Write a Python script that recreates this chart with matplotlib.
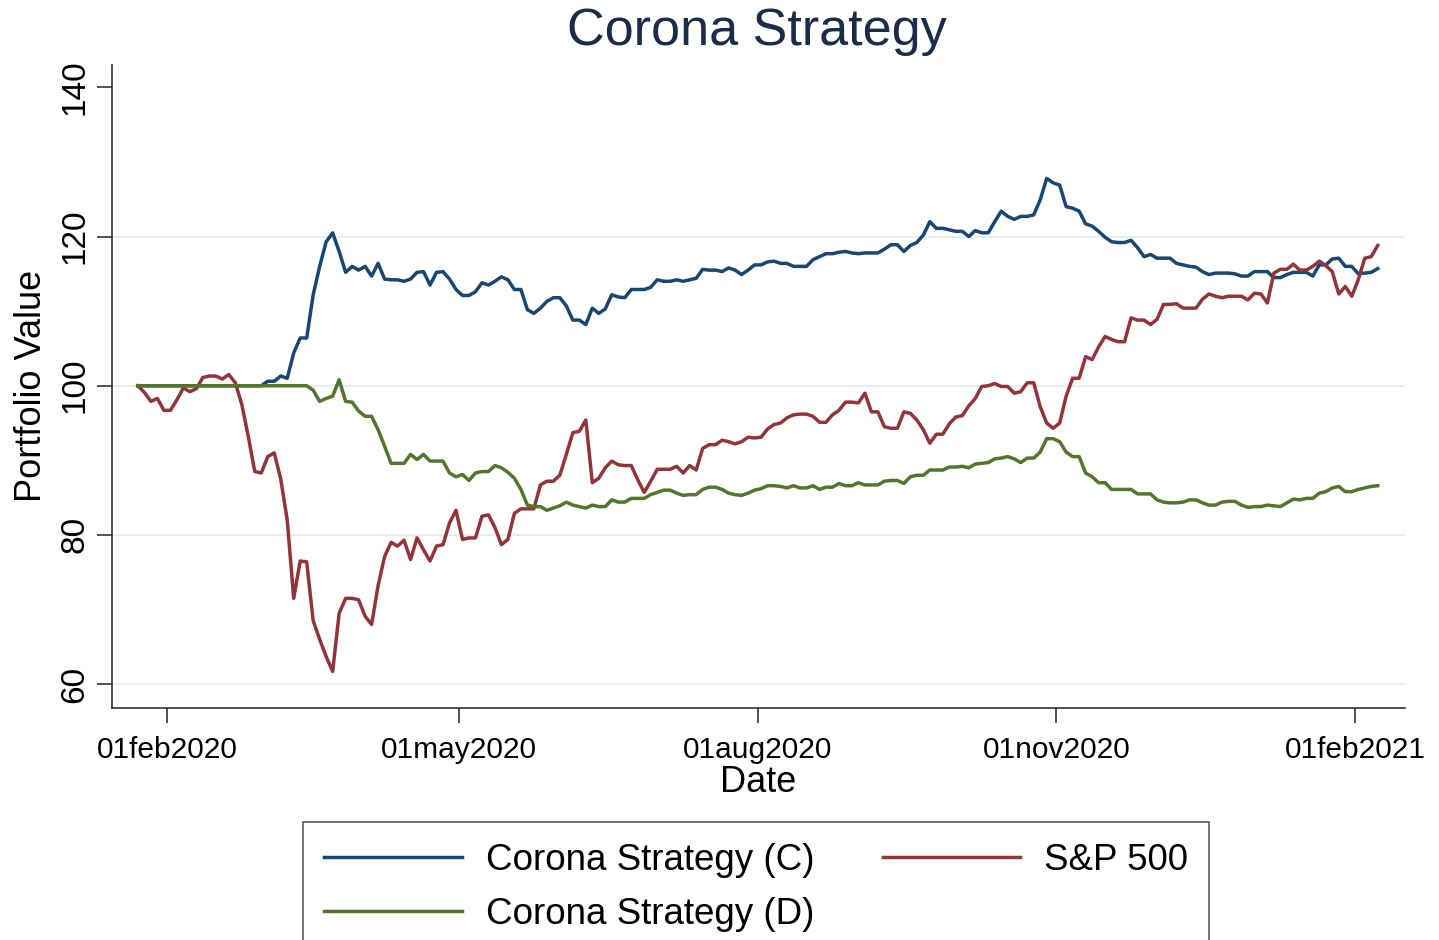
import pandas as pd
import matplotlib
matplotlib.use("Agg")
import matplotlib.pyplot as plt

plt.rcParams["font.family"] = ["Liberation Sans", "DejaVu Sans"]

# portfolio values (start = 100), sampled every second calendar day from 23jan2020
corona_c = [
    100.0, 100.0, 100.0, 100.0, 100.0, 100.0, 100.0, 100.0, 100.0, 100.0,
    100.0, 100.0, 100.0, 100.0, 100.0, 100.0, 100.0, 100.0, 100.0, 100.0,
    100.6, 100.6, 101.3, 101.0, 104.4, 106.4, 106.4, 112.2, 116.0, 119.3,
    120.5, 118.0, 115.2, 116.0, 115.5, 116.0, 114.7, 116.4, 114.3, 114.2,
    114.2, 114.0, 114.3, 115.2, 115.3, 113.5, 115.2, 115.3, 114.3, 112.9,
    112.1, 112.1, 112.6, 113.8, 113.5, 114.0, 114.6, 114.2, 112.9, 112.9,
    110.2, 109.7, 110.4, 111.3, 111.8, 111.8, 110.7, 108.8, 108.8, 108.2,
    110.4, 109.7, 110.3, 112.2, 111.9, 111.8, 112.9, 112.9, 112.9, 113.2,
    114.2, 114.0, 114.0, 114.2, 114.0, 114.2, 114.4, 115.6, 115.5, 115.5,
    115.3, 115.8, 115.5, 114.9, 115.5, 116.2, 116.2, 116.6, 116.7, 116.4,
    116.4, 116.0, 116.0, 116.0, 116.9, 117.3, 117.7, 117.7, 117.9, 118.0,
    117.8, 117.7, 117.8, 117.8, 117.8, 118.3, 118.9, 118.9, 118.0, 118.8,
    119.2, 120.2, 122.0, 121.1, 121.1, 120.9, 120.7, 120.7, 120.0, 120.8,
    120.5, 120.5, 122.0, 123.4, 122.7, 122.3, 122.7, 122.7, 122.9, 124.9,
    127.8, 127.2, 126.9, 124.0, 123.8, 123.4, 121.7, 121.4, 120.7, 119.9,
    119.3, 119.2, 119.2, 119.5, 118.5, 117.3, 117.6, 117.1, 117.1, 117.1,
    116.4, 116.2, 116.0, 115.9, 115.3, 114.9, 115.1, 115.1, 115.1, 115.0,
    114.7, 114.7, 115.3, 115.3, 115.3, 114.5, 114.5, 114.9, 115.2, 115.2,
    115.2, 114.7, 116.2, 116.2, 117.0, 117.1, 116.0, 116.0, 115.0, 115.1,
    115.2, 115.7,
]

sp500 = [
    100.0, 99.1, 97.9, 98.3, 96.7, 96.7, 98.1, 99.7, 99.2, 99.6,
    101.1, 101.3, 101.3, 100.9, 101.5, 100.4, 97.5, 93.2, 88.5, 88.3,
    90.5, 91.0, 87.5, 82.0, 71.5, 76.5, 76.4, 68.5, 66.0, 63.7,
    61.7, 69.5, 71.5, 71.5, 71.3, 69.1, 68.0, 73.2, 77.1, 79.0,
    78.5, 79.3, 76.7, 79.6, 78.0, 76.5, 78.5, 78.7, 81.6, 83.3,
    79.4, 79.6, 79.6, 82.5, 82.7, 81.0, 78.7, 79.4, 82.9, 83.5,
    83.5, 83.5, 86.7, 87.2, 87.2, 88.0, 90.8, 93.7, 93.9, 95.4,
    87.0, 87.6, 89.0, 89.9, 89.4, 89.3, 89.3, 87.4, 85.7, 87.2,
    88.8, 88.8, 88.8, 89.2, 88.3, 89.3, 88.7, 91.6, 92.1, 92.1,
    92.7, 92.5, 92.2, 92.5, 93.1, 93.0, 93.1, 94.2, 94.8, 95.0,
    95.7, 96.1, 96.2, 96.2, 95.9, 95.1, 95.1, 96.1, 96.7, 97.8,
    97.8, 97.7, 99.0, 96.5, 96.5, 94.5, 94.3, 94.3, 96.5, 96.3,
    95.4, 94.1, 92.3, 93.5, 93.5, 94.9, 95.8, 96.0, 97.3, 98.3,
    99.9, 100.0, 100.3, 99.9, 99.9, 99.0, 99.2, 100.4, 100.4, 97.2,
    95.0, 94.3, 95.0, 98.6, 101.0, 101.0, 103.9, 103.5, 105.2, 106.6,
    106.2, 105.9, 105.9, 109.1, 108.8, 108.8, 108.2, 108.9, 110.9, 110.9,
    111.0, 110.4, 110.4, 110.4, 111.6, 112.3, 112.0, 111.8, 112.0, 112.0,
    112.0, 111.5, 112.4, 112.3, 111.1, 115.1, 115.6, 115.6, 116.3, 115.5,
    115.5, 116.0, 116.7, 116.1, 115.3, 112.3, 113.3, 112.0, 114.2, 117.1,
    117.3, 118.8,
]

corona_d = [
    100.0, 100.0, 100.0, 100.0, 100.0, 100.0, 100.0, 100.0, 100.0, 100.0,
    100.0, 100.0, 100.0, 100.0, 100.0, 100.0, 100.0, 100.0, 100.0, 100.0,
    100.0, 100.0, 100.0, 100.0, 100.0, 100.0, 100.0, 99.4, 97.9, 98.3,
    98.6, 100.8, 97.9, 97.8, 96.6, 95.9, 95.9, 94.1, 91.9, 89.6,
    89.6, 89.6, 90.8, 90.1, 90.8, 89.9, 89.9, 89.9, 88.3, 87.8,
    88.1, 87.3, 88.3, 88.5, 88.5, 89.3, 89.0, 88.4, 87.6, 86.1,
    84.0, 83.8, 83.8, 83.3, 83.6, 83.9, 84.4, 84.0, 83.8, 83.6,
    84.0, 83.8, 83.8, 84.7, 84.4, 84.4, 84.9, 84.9, 84.9, 85.4,
    85.7, 86.0, 86.0, 85.6, 85.3, 85.4, 85.4, 86.1, 86.4, 86.4,
    86.1, 85.6, 85.4, 85.3, 85.6, 86.0, 86.2, 86.6, 86.6, 86.5,
    86.3, 86.6, 86.3, 86.3, 86.6, 86.1, 86.4, 86.4, 86.9, 86.6,
    86.6, 87.0, 86.7, 86.7, 86.7, 87.2, 87.3, 87.3, 86.9, 87.8,
    88.0, 88.0, 88.7, 88.7, 88.7, 89.1, 89.1, 89.2, 89.0, 89.5,
    89.6, 89.7, 90.2, 90.3, 90.5, 90.2, 89.7, 90.3, 90.3, 91.1,
    92.9, 92.9, 92.5, 91.1, 90.5, 90.5, 88.3, 87.8, 87.0, 87.0,
    86.1, 86.1, 86.1, 86.1, 85.5, 85.5, 85.5, 84.7, 84.4, 84.3,
    84.3, 84.4, 84.7, 84.7, 84.3, 84.0, 84.0, 84.4, 84.5, 84.5,
    84.0, 83.7, 83.8, 83.8, 84.0, 83.9, 83.8, 84.3, 84.8, 84.7,
    84.9, 84.9, 85.6, 85.8, 86.3, 86.5, 85.8, 85.8, 86.1, 86.3,
    86.5, 86.6,
]

dates = pd.date_range("2020-01-23", periods=len(corona_c), freq="2D")

tick_dates = ["2020-02-01", "2020-05-01", "2020-08-01", "2020-11-01", "2021-02-01"]
tick_labels = ["01feb2020", "01may2020", "01aug2020", "01nov2020", "01feb2021"]
y_ticks = [60, 80, 100, 120, 140]

navy = "#1a476f"
maroon = "#90353b"
forest = "#55752f"

fig = plt.figure(figsize=(14.39, 9.40), dpi=100)
ax = fig.add_axes([0.0778, 0.2468, 0.8986, 0.6841])

for y in y_ticks[:-1]:
    ax.axhline(y, color="#e6eef0", linewidth=1.6, zorder=0)

lw = 2.5
l_c, = ax.plot(dates, corona_c, color=navy, linewidth=lw, zorder=3)
l_sp, = ax.plot(dates, sp500, color=maroon, linewidth=lw, zorder=3)
l_d, = ax.plot(dates, corona_d, color=forest, linewidth=lw, zorder=3)

ax.set_xlim(pd.Timestamp("2020-01-15"), pd.Timestamp("2021-02-16 10:00"))
ax.set_ylim(56.8, 143.0)

ax.set_xticks(pd.to_datetime(tick_dates))
ax.set_xticklabels(tick_labels)
ax.set_yticks(y_ticks)

ax.spines["top"].set_visible(False)
ax.spines["right"].set_visible(False)
for side in ["left", "bottom"]:
    ax.spines[side].set_linewidth(1.1)
    ax.spines[side].set_color("#222222")

ax.tick_params(axis="x", length=10.5, width=1.1, pad=10, labelsize=21.5, color="#222222")
ax.tick_params(axis="y", length=10.5, width=1.1, pad=5, labelsize=24, color="#222222")
for lab in ax.get_yticklabels():
    lab.set_rotation(90)
    lab.set_va("center")

fig.text(0.526, 0.966, "Corona Strategy", ha="center", va="center",
         fontsize=37.5, color="#1c2c46")
fig.text(0.527, 1 - 782 / 940, "Date", ha="center", va="center", fontsize=26)
fig.text(31.5 / 1439, 1 - 386 / 940, "Portfolio Value", ha="center", va="center",
         rotation=90, fontsize=26)

leg = fig.legend([l_c, l_d, l_sp],
                 ["Corona Strategy (C)", "Corona Strategy (D)", "S&P 500"],
                 ncol=2, loc="upper left", bbox_to_anchor=(303 / 1439, 1 - 822 / 940),
                 borderaxespad=0, fontsize=26.5, frameon=True, fancybox=False,
                 edgecolor="#222222", handlelength=3.73, handletextpad=0.65,
                 columnspacing=1.87, borderpad=0.58, labelspacing=0.50)
leg.get_frame().set_linewidth(1.1)

fig.savefig("out.png", dpi=100)
